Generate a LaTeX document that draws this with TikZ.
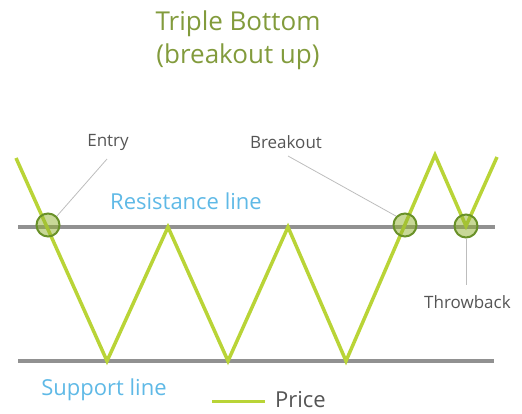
\documentclass[tikz,border=0pt]{standalone}
\usepackage{fontspec}
\setmainfont{Open Sans}
\usepackage{xcolor}
\definecolor{pricegreen}{RGB}{185, 212, 55}
\definecolor{titlegreen}{RGB}{130, 155, 60}
\definecolor{markgreen}{RGB}{105, 145, 40}
\definecolor{lineblue}{RGB}{95, 185, 230}
\definecolor{linegray}{RGB}{145, 145, 145}
\definecolor{textgray}{RGB}{85, 85, 85}
\usetikzlibrary{positioning, calc}

\begin{document}
\begin{tikzpicture}[x=1pt, y=-1pt,
    level/.style={draw=linegray, line width=4pt},
    price/.style={draw=pricegreen, line width=3.5pt, line join=miter},
    hit/.style={circle, draw=markgreen, line width=2pt, fill=markgreen!50!pricegreen, fill opacity=0.5, minimum size=23pt, inner sep=0pt},
    callout/.style={draw=linegray!60, line width=0.8pt},
    tag/.style={font=\fontsize{17}{20}\selectfont, text=textgray, inner sep=1pt},
    linetag/.style={font=\fontsize{22}{26}\selectfont, text=lineblue, inner sep=1pt}]
    \useasboundingbox (0,0) rectangle (522,413);

    % title
    \node [font=\fontsize{26}{33}\selectfont, text=titlegreen, align=center] (title) at (238,40) {Triple Bottom\\(breakout up)};

    % resistance and support
    \coordinate (res-l) at (18,227);
    \coordinate (res-r) at (495,227);
    \coordinate (sup-l) at (18,361);
    \coordinate (sup-r) at (494,361);
    \draw [level] (res-l) -- (res-r);
    \draw [level] (sup-l) -- (sup-r);

    % price path
    \coordinate (p0) at (16,158);
    \coordinate (p1) at (107,361);
    \coordinate (p2) at (168,227);
    \coordinate (p3) at (228,361);
    \coordinate (p4) at (288,227);
    \coordinate (p5) at (346,361);
    \coordinate (p6) at (435,155);
    \coordinate (p7) at (466,226);
    \coordinate (p8) at (497,157);
    \draw [price] (p0) -- (p1) -- (p2) -- (p3) -- (p4) -- (p5) -- (p6) -- (p7) -- (p8);

    % marked points
    \node [hit] (entry) at (48,225) {};
    \node [hit] (brk) at (405,225) {};
    \node [hit] (throw) at (466,226) {};

    % labels
    \node [tag] (entry-tag) at (108,142) {Entry};
    \node [tag] (brk-tag) at (286,142) {Breakout};
    \node [tag, anchor=west] (throw-tag) at (423,302) {Throwback};
    \coordinate (entry-end) at (107,159);
    \coordinate (brk-end) at (288,156);
    \coordinate (throw-end) at (466,285);
    \draw [callout] (entry-end) -- (entry.north east);
    \draw [callout] (brk-end) -- (brk.north west);
    \draw [callout] (throw.south) -- (throw-end);

    \node [linetag] (res-tag) at (186,201) {Resistance line};
    \node [linetag] (sup-tag) at (104,390) {Support line};

    % legend
    \coordinate (leg-a) at (212,401);
    \coordinate (leg-b) at (265,401);
    \draw [price, line width=3pt] (leg-a) -- (leg-b);
    \node [font=\fontsize{22}{26}\selectfont, text=textgray, anchor=west, inner sep=0pt] (leg-tag) at (275,400) {Price};
\end{tikzpicture}
\end{document}
